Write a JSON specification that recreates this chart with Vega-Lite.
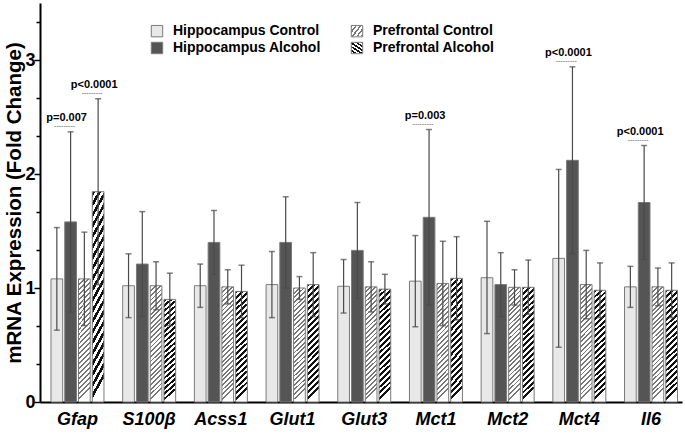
{
  "$schema": "https://vega.github.io/schema/vega-lite/v6.json",
  "width": 642,
  "height": 399,
  "autosize": {"type": "none"},
  "padding": {"left": 40, "top": 3, "right": 3, "bottom": 32},
  "background": "white",
  "config": {"view": {"stroke": null}},
  "resolve": {"scale": {"y": "shared"}, "axis": {"y": "independent"}},
  "data": {
    "values": [
      {"gene": "Gfap", "group": "Hippocampus Control", "mean": 1.08, "lo": 0.63, "hi": 1.53},
      {"gene": "Gfap", "group": "Hippocampus Alcohol", "mean": 1.58, "lo": 0.79, "hi": 2.37, "p": "p=0.007"},
      {"gene": "Gfap", "group": "Prefrontal Control", "mean": 1.08, "lo": 0.67, "hi": 1.49},
      {"gene": "Gfap", "group": "Prefrontal Alcohol", "mean": 1.845, "lo": 1.03, "hi": 2.66, "p": "p<0.0001"},
      {"gene": "S100β", "group": "Hippocampus Control", "mean": 1.02, "lo": 0.74, "hi": 1.3},
      {"gene": "S100β", "group": "Hippocampus Alcohol", "mean": 1.21, "lo": 0.75, "hi": 1.67},
      {"gene": "S100β", "group": "Prefrontal Control", "mean": 1.02, "lo": 0.81, "hi": 1.23},
      {"gene": "S100β", "group": "Prefrontal Alcohol", "mean": 0.9, "lo": 0.67, "hi": 1.13},
      {"gene": "Acss1", "group": "Hippocampus Control", "mean": 1.02, "lo": 0.83, "hi": 1.21},
      {"gene": "Acss1", "group": "Hippocampus Alcohol", "mean": 1.4, "lo": 1.12, "hi": 1.68},
      {"gene": "Acss1", "group": "Prefrontal Control", "mean": 1.01, "lo": 0.86, "hi": 1.16},
      {"gene": "Acss1", "group": "Prefrontal Alcohol", "mean": 0.97, "lo": 0.74, "hi": 1.2},
      {"gene": "Glut1", "group": "Hippocampus Control", "mean": 1.03, "lo": 0.74, "hi": 1.32},
      {"gene": "Glut1", "group": "Hippocampus Alcohol", "mean": 1.4, "lo": 1.0, "hi": 1.8},
      {"gene": "Glut1", "group": "Prefrontal Control", "mean": 1.0, "lo": 0.9, "hi": 1.1},
      {"gene": "Glut1", "group": "Prefrontal Alcohol", "mean": 1.03, "lo": 0.75, "hi": 1.31},
      {"gene": "Glut3", "group": "Hippocampus Control", "mean": 1.015, "lo": 0.78, "hi": 1.25},
      {"gene": "Glut3", "group": "Hippocampus Alcohol", "mean": 1.33, "lo": 0.91, "hi": 1.75},
      {"gene": "Glut3", "group": "Prefrontal Control", "mean": 1.01, "lo": 0.79, "hi": 1.23},
      {"gene": "Glut3", "group": "Prefrontal Alcohol", "mean": 0.99, "lo": 0.86, "hi": 1.12},
      {"gene": "Mct1", "group": "Hippocampus Control", "mean": 1.06, "lo": 0.66, "hi": 1.46},
      {"gene": "Mct1", "group": "Hippocampus Alcohol", "mean": 1.62, "lo": 0.85, "hi": 2.39, "p": "p=0.003"},
      {"gene": "Mct1", "group": "Prefrontal Control", "mean": 1.04, "lo": 0.67, "hi": 1.41},
      {"gene": "Mct1", "group": "Prefrontal Alcohol", "mean": 1.085, "lo": 0.72, "hi": 1.45},
      {"gene": "Mct2", "group": "Hippocampus Control", "mean": 1.09, "lo": 0.6, "hi": 1.585},
      {"gene": "Mct2", "group": "Hippocampus Alcohol", "mean": 1.03, "lo": 0.75, "hi": 1.31},
      {"gene": "Mct2", "group": "Prefrontal Control", "mean": 1.006, "lo": 0.85, "hi": 1.16},
      {"gene": "Mct2", "group": "Prefrontal Alcohol", "mean": 1.006, "lo": 0.77, "hi": 1.245},
      {"gene": "Mct4", "group": "Hippocampus Control", "mean": 1.26, "lo": 0.48, "hi": 2.04},
      {"gene": "Mct4", "group": "Hippocampus Alcohol", "mean": 2.12, "lo": 1.3, "hi": 2.94, "p": "p<0.0001"},
      {"gene": "Mct4", "group": "Prefrontal Control", "mean": 1.03, "lo": 0.73, "hi": 1.33},
      {"gene": "Mct4", "group": "Prefrontal Alcohol", "mean": 0.98, "lo": 0.74, "hi": 1.22},
      {"gene": "Il6", "group": "Hippocampus Control", "mean": 1.01, "lo": 0.83, "hi": 1.19},
      {"gene": "Il6", "group": "Hippocampus Alcohol", "mean": 1.75, "lo": 1.25, "hi": 2.25, "p": "p<0.0001"},
      {"gene": "Il6", "group": "Prefrontal Control", "mean": 1.01, "lo": 0.845, "hi": 1.175},
      {"gene": "Il6", "group": "Prefrontal Alcohol", "mean": 0.98, "lo": 0.74, "hi": 1.22}
    ]
  },
  "encoding": {
    "x": {
      "field": "gene", "type": "nominal",
      "sort": ["Gfap", "S100β", "Acss1", "Glut1", "Glut3", "Mct1", "Mct2", "Mct4", "Il6"],
      "scale": {"paddingInner": 0.261, "paddingOuter": 0.108, "align": 0.71},
      "title": null,
      "axis": {
        "ticks": false, "domainWidth": 2, "domainColor": "#000",
        "labelFont": "Liberation Sans", "labelFontWeight": "bold", "labelFontStyle": "italic",
        "labelFontSize": 18, "labelColor": "#000", "labelPadding": 8, "labelAngle": 0
      }
    },
    "xOffset": {
      "field": "group", "type": "nominal",
      "sort": ["Hippocampus Control", "Hippocampus Alcohol", "Prefrontal Control", "Prefrontal Alcohol"],
      "scale": {"paddingInner": 0.15, "paddingOuter": 0}
    }
  },
  "layer": [
    {
      "mark": {"type": "bar", "stroke": "#7a7a7a", "strokeWidth": 1},
      "encoding": {
        "y": {
          "field": "mean", "type": "quantitative",
          "scale": {"domain": [0, 3.5], "nice": false},
          "title": "mRNA Expression (Fold Change)",
          "axis": {
            "orient": "left",
            "values": [0, 1, 2, 3],
            "format": "d",
            "tickSize": 6,
            "tickWidth": 1.5, "tickColor": "#000", "domainColor": "#000", "domainWidth": 2,
            "labelFont": "Liberation Sans", "labelFontWeight": "bold", "labelFontSize": 18,
            "labelColor": "#000", "labelPadding": -1, "labelOverlap": false, "grid": false,
            "titleFont": "Liberation Sans", "titleFontSize": 20.5, "titleFontWeight": "bold",
            "titleColor": "#000", "titlePadding": 0
          }
        },
        "fill": {
          "field": "group", "type": "nominal",
          "scale": {
            "domain": ["Hippocampus Control", "Hippocampus Alcohol", "Prefrontal Control", "Prefrontal Alcohol"],
            "range": [
              "#e8e8e8",
              "#555555",
              {"expr": "{gradient:'linear',x1:0,y1:0,x2:0.1,y2:1,stops:[{offset:0,color:'#777'},{offset:0.016,color:'#777'},{offset:0.016,color:'#fff'},{offset:0.04,color:'#fff'},{offset:0.04,color:'#777'},{offset:0.056,color:'#777'},{offset:0.056,color:'#fff'},{offset:0.08,color:'#fff'},{offset:0.08,color:'#777'},{offset:0.096,color:'#777'},{offset:0.096,color:'#fff'},{offset:0.12,color:'#fff'},{offset:0.12,color:'#777'},{offset:0.136,color:'#777'},{offset:0.136,color:'#fff'},{offset:0.16,color:'#fff'},{offset:0.16,color:'#777'},{offset:0.176,color:'#777'},{offset:0.176,color:'#fff'},{offset:0.2,color:'#fff'},{offset:0.2,color:'#777'},{offset:0.216,color:'#777'},{offset:0.216,color:'#fff'},{offset:0.24,color:'#fff'},{offset:0.24,color:'#777'},{offset:0.256,color:'#777'},{offset:0.256,color:'#fff'},{offset:0.28,color:'#fff'},{offset:0.28,color:'#777'},{offset:0.296,color:'#777'},{offset:0.296,color:'#fff'},{offset:0.32,color:'#fff'},{offset:0.32,color:'#777'},{offset:0.336,color:'#777'},{offset:0.336,color:'#fff'},{offset:0.36,color:'#fff'},{offset:0.36,color:'#777'},{offset:0.376,color:'#777'},{offset:0.376,color:'#fff'},{offset:0.4,color:'#fff'},{offset:0.4,color:'#777'},{offset:0.416,color:'#777'},{offset:0.416,color:'#fff'},{offset:0.44,color:'#fff'},{offset:0.44,color:'#777'},{offset:0.456,color:'#777'},{offset:0.456,color:'#fff'},{offset:0.48,color:'#fff'},{offset:0.48,color:'#777'},{offset:0.496,color:'#777'},{offset:0.496,color:'#fff'},{offset:0.52,color:'#fff'},{offset:0.52,color:'#777'},{offset:0.536,color:'#777'},{offset:0.536,color:'#fff'},{offset:0.56,color:'#fff'},{offset:0.56,color:'#777'},{offset:0.576,color:'#777'},{offset:0.576,color:'#fff'},{offset:0.6,color:'#fff'},{offset:0.6,color:'#777'},{offset:0.616,color:'#777'},{offset:0.616,color:'#fff'},{offset:0.64,color:'#fff'},{offset:0.64,color:'#777'},{offset:0.656,color:'#777'},{offset:0.656,color:'#fff'},{offset:0.68,color:'#fff'},{offset:0.68,color:'#777'},{offset:0.696,color:'#777'},{offset:0.696,color:'#fff'},{offset:0.72,color:'#fff'},{offset:0.72,color:'#777'},{offset:0.736,color:'#777'},{offset:0.736,color:'#fff'},{offset:0.76,color:'#fff'},{offset:0.76,color:'#777'},{offset:0.776,color:'#777'},{offset:0.776,color:'#fff'},{offset:0.8,color:'#fff'},{offset:0.8,color:'#777'},{offset:0.816,color:'#777'},{offset:0.816,color:'#fff'},{offset:0.84,color:'#fff'},{offset:0.84,color:'#777'},{offset:0.856,color:'#777'},{offset:0.856,color:'#fff'},{offset:0.88,color:'#fff'},{offset:0.88,color:'#777'},{offset:0.896,color:'#777'},{offset:0.896,color:'#fff'},{offset:0.92,color:'#fff'},{offset:0.92,color:'#777'},{offset:0.936,color:'#777'},{offset:0.936,color:'#fff'},{offset:0.96,color:'#fff'},{offset:0.96,color:'#777'},{offset:0.976,color:'#777'},{offset:0.976,color:'#fff'},{offset:1,color:'#fff'}]}"},
              {"expr": "{gradient:'linear',x1:0,y1:0,x2:0.1,y2:1,stops:[{offset:0,color:'#111'},{offset:0.025,color:'#111'},{offset:0.025,color:'#fff'},{offset:0.05,color:'#fff'},{offset:0.05,color:'#111'},{offset:0.075,color:'#111'},{offset:0.075,color:'#fff'},{offset:0.1,color:'#fff'},{offset:0.1,color:'#111'},{offset:0.125,color:'#111'},{offset:0.125,color:'#fff'},{offset:0.15,color:'#fff'},{offset:0.15,color:'#111'},{offset:0.175,color:'#111'},{offset:0.175,color:'#fff'},{offset:0.2,color:'#fff'},{offset:0.2,color:'#111'},{offset:0.225,color:'#111'},{offset:0.225,color:'#fff'},{offset:0.25,color:'#fff'},{offset:0.25,color:'#111'},{offset:0.275,color:'#111'},{offset:0.275,color:'#fff'},{offset:0.3,color:'#fff'},{offset:0.3,color:'#111'},{offset:0.325,color:'#111'},{offset:0.325,color:'#fff'},{offset:0.35,color:'#fff'},{offset:0.35,color:'#111'},{offset:0.375,color:'#111'},{offset:0.375,color:'#fff'},{offset:0.4,color:'#fff'},{offset:0.4,color:'#111'},{offset:0.425,color:'#111'},{offset:0.425,color:'#fff'},{offset:0.45,color:'#fff'},{offset:0.45,color:'#111'},{offset:0.475,color:'#111'},{offset:0.475,color:'#fff'},{offset:0.5,color:'#fff'},{offset:0.5,color:'#111'},{offset:0.525,color:'#111'},{offset:0.525,color:'#fff'},{offset:0.55,color:'#fff'},{offset:0.55,color:'#111'},{offset:0.575,color:'#111'},{offset:0.575,color:'#fff'},{offset:0.6,color:'#fff'},{offset:0.6,color:'#111'},{offset:0.625,color:'#111'},{offset:0.625,color:'#fff'},{offset:0.65,color:'#fff'},{offset:0.65,color:'#111'},{offset:0.675,color:'#111'},{offset:0.675,color:'#fff'},{offset:0.7,color:'#fff'},{offset:0.7,color:'#111'},{offset:0.725,color:'#111'},{offset:0.725,color:'#fff'},{offset:0.75,color:'#fff'},{offset:0.75,color:'#111'},{offset:0.775,color:'#111'},{offset:0.775,color:'#fff'},{offset:0.8,color:'#fff'},{offset:0.8,color:'#111'},{offset:0.825,color:'#111'},{offset:0.825,color:'#fff'},{offset:0.85,color:'#fff'},{offset:0.85,color:'#111'},{offset:0.875,color:'#111'},{offset:0.875,color:'#fff'},{offset:0.9,color:'#fff'},{offset:0.9,color:'#111'},{offset:0.925,color:'#111'},{offset:0.925,color:'#fff'},{offset:0.95,color:'#fff'},{offset:0.95,color:'#111'},{offset:0.975,color:'#111'},{offset:0.975,color:'#fff'},{offset:1,color:'#fff'}]}"}
            ]
          },
          "legend": {
            "orient": "none", "legendX": 110, "legendY": 21, "direction": "vertical",
            "columns": 2, "columnPadding": 28, "rowPadding": 1, "padding": 0, "title": null,
            "values": ["Hippocampus Control", "Hippocampus Alcohol", "Prefrontal Control", "Prefrontal Alcohol"],
            "symbolType": "square", "symbolSize": 130, "symbolStrokeColor": "#7a7a7a", "symbolStrokeWidth": 1,
            "labelFont": "Liberation Sans", "labelFontSize": 14, "labelFontWeight": "bold",
            "labelColor": "#000", "labelOffset": 9, "labelLimit": 300
          }
        }
      }
    },
    {
      "mark": {"type": "rule", "color": "#4a4a4a", "strokeWidth": 1.2},
      "encoding": {
        "y": {
          "field": "lo", "type": "quantitative", "title": null,
          "axis": {
            "orient": "left", "offset": 0,
            "values": [0.3333, 0.6667, 1.3333, 1.6667, 2.3333, 2.6667, 3.3333],
            "labels": false, "domain": false, "grid": false,
            "tickSize": 4, "tickWidth": 1.5, "tickColor": "#000", "title": null
          }
        },
        "y2": {"field": "hi"}
      }
    },
    {
      "mark": {"type": "tick", "color": "#4a4a4a", "thickness": 1.5, "size": 6},
      "encoding": {"y": {"field": "hi", "type": "quantitative", "axis": null}}
    },
    {
      "mark": {"type": "tick", "color": "#4a4a4a", "thickness": 1.5, "size": 6},
      "encoding": {"y": {"field": "lo", "type": "quantitative", "axis": null}}
    },
    {
      "transform": [{"filter": "isValid(datum.p)"}],
      "mark": {"type": "text", "font": "Liberation Sans", "fontWeight": "bold", "fontSize": 11, "color": "#000", "baseline": "alphabetic", "dy": -11, "dx": -4},
      "encoding": {
        "y": {"field": "hi", "type": "quantitative", "axis": null},
        "text": {"field": "p"}
      }
    },
    {
      "transform": [{"filter": "isValid(datum.p)"}],
      "mark": {"type": "text", "font": "Liberation Sans", "fontSize": 7, "color": "#555", "baseline": "middle", "dy": -6, "dx": -6},
      "encoding": {
        "y": {"field": "hi", "type": "quantitative", "axis": null},
        "text": {"value": "---------"}
      }
    }
  ]
}
